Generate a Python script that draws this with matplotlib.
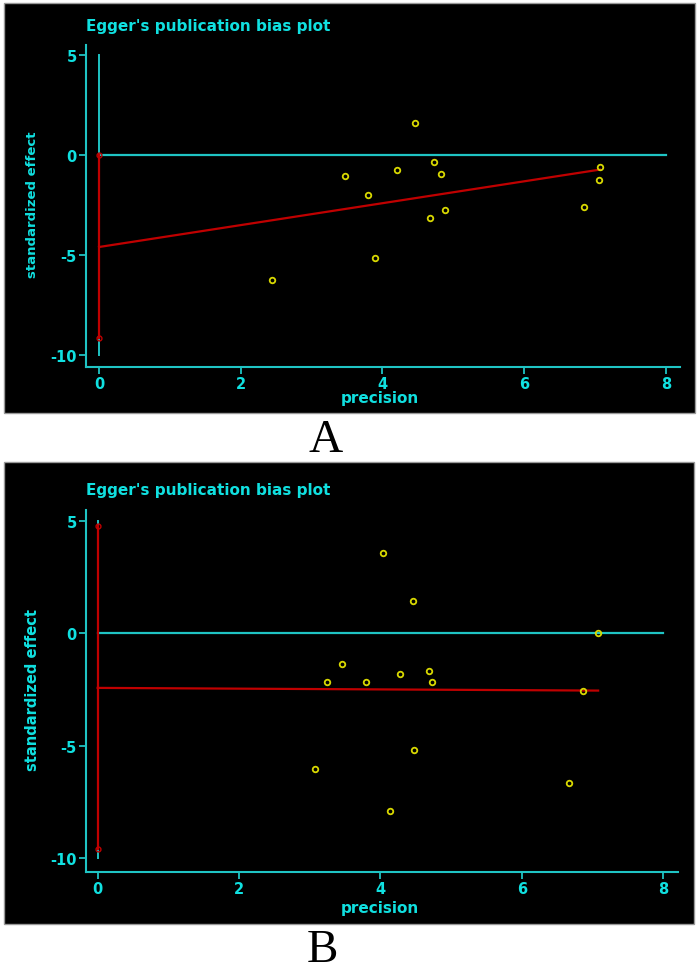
import numpy as np
import matplotlib.pyplot as plt
from matplotlib.patches import Rectangle

plt.rcParams['axes.unicode_minus'] = False

# Panel A data (precision, standardized effect)
prec_a = [4.46, 4.73, 4.21, 4.83, 3.80, 4.89, 4.67, 3.90, 7.07, 7.05, 6.85, 2.44, 3.47]
eff_a = [1.58, -0.37, -0.75, -0.95, -1.98, -2.75, -3.15, -5.15, -0.62, -1.27, -2.62, -6.25, -1.07]
fit_x_a = [0, 7.07]
fit_y_a = [-4.6, -0.73]
ci_a = [0.0, -9.15]

# Panel B data
prec_b = [4.03, 4.46, 7.08, 3.46, 3.25, 3.79, 4.28, 4.69, 4.73, 6.87, 4.48, 3.08, 6.67, 4.13]
eff_b = [3.57, 1.44, 0.01, -1.35, -2.19, -2.19, -1.81, -1.67, -2.19, -2.58, -5.17, -6.02, -6.67, -7.88]
fit_x_b = [0, 7.08]
fit_y_b = [-2.43, -2.55]
ci_b = [4.75, -9.57]

xticks = [0, 2, 4, 6, 8]
yticks = [-10, -5, 0, 5]

CYAN = '#1fc4c4'
TXT = '#10e0e0'
RED = '#c00000'
YEL = '#d8d800'

fig = plt.figure(figsize=(7, 9.78), dpi=100)
fig.patch.set_facecolor('white')

# black panel backgrounds (pixel boxes converted to figure fractions)
W, H = 700, 978
for (x0, y0, x1, y1) in [(4, 4, 695, 414), (4, 463, 694, 925)]:
    fig.patches.append(Rectangle((x0 / W, 1 - y1 / H), (x1 - x0) / W, (y1 - y0) / H,
                                 transform=fig.transFigure, facecolor='black',
                                 edgecolor='#999999', lw=1, zorder=-5))


def egger(rect, xlim, ylim, prec, eff, fx, fy, ci, title_y, ylab_y, ylab_size, xlab_y):
    ax = fig.add_axes(rect)
    ax.set_facecolor('none')
    ax.set_xlim(*xlim)
    ax.set_ylim(*ylim)
    for s in ['top', 'right']:
        ax.spines[s].set_visible(False)
    for s in ['left', 'bottom']:
        ax.spines[s].set_color(CYAN)
        ax.spines[s].set_linewidth(1.5)
    ax.set_xticks(xticks)
    ax.set_yticks(yticks)
    ax.tick_params(colors=CYAN, labelcolor=TXT, length=5, width=1.3, labelsize=10.5, pad=1.5)
    for lab in ax.get_xticklabels() + ax.get_yticklabels():
        lab.set_fontweight('bold')
    # reference lines
    ax.plot([0, 8], [0, 0], color=CYAN, lw=1.6, zorder=2)
    ax.plot([0, 0], [-10, 5], color=CYAN, lw=1.4, zorder=2)
    # intercept CI and regression line
    ax.plot([0, 0], ci, color=RED, lw=1.6, marker='o', ms=3.5, mfc='none', mew=1, zorder=3)
    ax.plot(fx, fy, color=RED, lw=1.6, zorder=3)
    ax.plot(prec, eff, ls='none', marker='o', ms=4, mfc='none', mec=YEL, mew=1.3, zorder=4)
    fig.text(86 / W, 1 - title_y / H, "Egger's publication bias plot", color=TXT,
             fontsize=11, fontweight='bold', ha='left', va='center')
    fig.text(33 / W, 1 - ylab_y / H, 'standardized effect', color=TXT, fontsize=ylab_size,
             fontweight='bold', rotation=90, ha='center', va='center')
    fig.text(380 / W, 1 - xlab_y / H, 'precision', color=TXT, fontsize=11,
             fontweight='bold', ha='center', va='center')
    return ax


egger([86 / W, 1 - 368 / H, 594 / W, 322 / H], (-0.184, 8.2), (-10.6, 5.5),
      prec_a, eff_a, fit_x_a, fit_y_a, ci_a, 27, 205, 9.5, 399)
egger([86 / W, 1 - 872.7 / H, 592 / W, 362 / H], (-0.165, 8.21), (-10.6, 5.49),
      prec_b, eff_b, fit_x_b, fit_y_b, ci_b, 491, 690, 10.5, 908)

fig.text(326 / W, 1 - 441 / H, 'A', family='Liberation Serif', fontsize=34,
         ha='center', va='center', color='black')
fig.text(322 / W, 1 - 951 / H, 'B', family='Liberation Serif', fontsize=34,
         ha='center', va='center', color='black')

fig.savefig('out.png', dpi=100)
